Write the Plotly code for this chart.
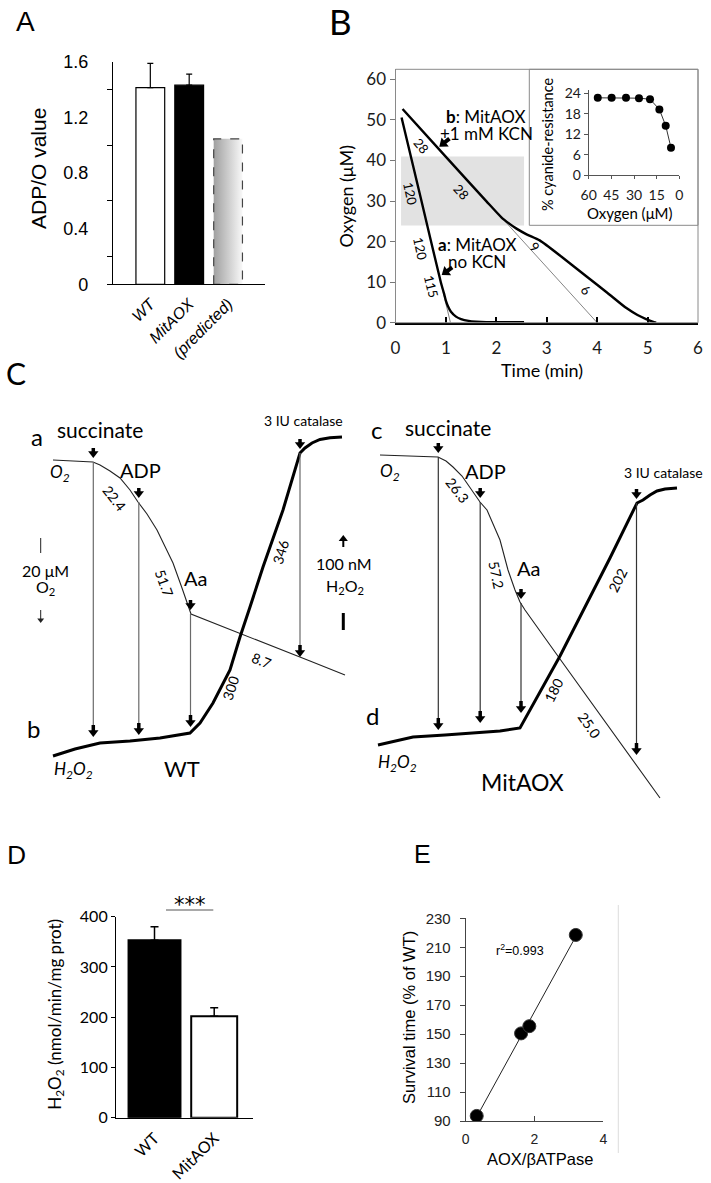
import math
import numpy as np
import plotly.graph_objects as go

W, H = 711, 1183
ARIAL = "Liberation Sans, Arial, sans-serif"
CAL = "Lato, Carlito, Calibri, sans-serif"

# ---------------- Panel A data ----------------
adp_cats = ["WT", "MitAOX", "(predicted)"]
adp_vals = [1.415, 1.433, 1.047]
adp_err = [0.175, 0.08, 0.0]

# ---------------- Panel B data (time, min ; oxygen, µM) ----------------
a_time = [0.12, 0.50, 0.90, 0.96, 1.00, 1.05, 1.10, 1.20, 1.30, 1.45, 1.60, 1.80, 2.55]
a_oxy = [50.6, 30.8, 9.9, 7.3, 5.4, 3.8, 2.7, 1.5, 0.9, 0.45, 0.25, 0.12, 0.15]
a_ext_time = [0.90, 1.09]
a_ext_oxy = [9.9, 0.0]
b_time = [0.14, 1.0, 1.8, 2.1, 2.25, 2.4, 2.6, 2.86, 3.3, 3.79, 4.2, 4.58, 4.8, 4.97, 5.1, 5.17]
b_oxy = [52.7, 40.9, 30.0, 26.0, 24.5, 23.2, 21.8, 20.3, 16.2, 11.4, 7.4, 3.6, 1.9, 0.9, 0.25, 0.0]
b_ext_time = [2.1, 4.0]
b_ext_oxy = [26.0, 0.0]
shade_time = [0.11, 2.55]
shade_oxy = [24.0, 41.0]

# inset
cn_oxygen = [54.0, 44.8, 35.3, 26.7, 19.4, 13.2, 9.0, 5.5]
cn_resist = [22.7, 22.7, 22.7, 22.6, 22.3, 19.3, 14.5, 8.0]

# ---------------- Panel C data (recorder traces, drawing units) ----------------
wt_o2_x = [53, 70, 93, 100, 110, 120, 130, 138, 147, 157, 165, 173, 182, 191, 230, 270, 310, 345]
wt_o2_y = [460, 461, 462, 465, 471, 478, 490, 502, 514, 530, 546, 563, 588, 614, 629.5, 645, 661, 675]
wt_h2o2_x = [53, 75, 100, 130, 160, 190, 200, 213, 230, 240, 250, 263, 283, 300, 305, 312, 320, 330, 342]
wt_h2o2_y = [756, 749, 743, 741, 738, 733, 723, 703, 670, 637, 607, 567, 510, 453, 448, 443, 439.5, 437.8, 437]
wt_add_x = [93.3, 138.8, 190.5, 300]
wt_add_top = [462, 502, 614, 453]
wt_add_bot = [737, 735, 727, 657]

aox_o2_x = [380, 400, 420, 438, 446, 453, 462, 470, 480, 487, 493, 500, 508, 515, 520, 525, 560, 600, 640, 660]
aox_o2_y = [455, 455.5, 456, 457, 461, 467, 476, 487, 502, 510, 524, 540, 570, 590, 602, 610, 659, 715, 770, 798]
aox_h2o2_x = [378, 395, 413, 445, 477, 500, 520, 560, 610, 637, 643, 650, 657, 665, 677]
aox_h2o2_y = [745, 741, 737, 735, 733, 731, 728, 656, 558, 503, 500, 495, 491, 489, 488]
aox_add_x = [438.3, 480.2, 521, 636.5]
aox_add_top = [457, 502, 603, 503]
aox_add_bot = [730, 723, 713, 755]

# ---------------- Panel D data ----------------
h2o2_groups = ["WT", "MitAOX"]
h2o2_rate = [353, 202]
h2o2_err = [27, 17]

# ---------------- Panel E data ----------------
aox_ratio = [0.32, 1.61, 1.85, 3.20]
survival = [93.5, 150.5, 155.5, 218.5]


def dxp(a, b):
    return [a / W, b / W]


def dyp(top, bottom):
    return [1 - bottom / H, 1 - top / H]


annotations = []
shapes = []


def txt(s, x, y, size, family=CAL, angle=0, xa="center", ya="middle", color="black"):
    annotations.append(dict(text=s, x=x / W, y=1 - y / H, xref="paper", yref="paper",
                            showarrow=False, textangle=angle, xanchor=xa, yanchor=ya,
                            font=dict(size=size, family=family, color=color)))


def pline(x0, y0, x1, y1, color="black", width=1):
    shapes.append(dict(type="line", xref="paper", yref="paper", x0=x0 / W, x1=x1 / W,
                       y0=1 - y0 / H, y1=1 - y1 / H, line=dict(color=color, width=width)))


arrows = []


def arrow(x, y, ddx=0.0, ddy=1.0, length=11, shaft=3.5, head=9, color="black"):
    arrows.append((x, y, ddx, ddy, length, shaft, head, color))


fig = go.Figure()

# ================= Panel A =================
fig.add_trace(go.Bar(x=[0, 1], y=adp_vals[:2], width=0.74,
                     marker=dict(color=["white", "black"], line=dict(color="black", width=1.2)),
                     error_y=dict(type="data", symmetric=False, array=adp_err[:2], arrayminus=[0, 0],
                                  color="black", thickness=1.2, width=3),
                     xaxis="x", yaxis="y", hoverinfo="skip"))
bw = 0.74
pv = adp_vals[2]
fig.add_trace(go.Scatter(x=[2 - bw / 2, 2 - bw / 2, 2 + bw / 2, 2 + bw / 2, 2 - bw / 2],
                         y=[0, pv, pv, 0, 0], mode="lines", fill="toself",
                         fillgradient=dict(type="horizontal",
                                           colorscale=[[0, "#a0a0a0"], [1, "#f8f8f8"]]),
                         line=dict(color="#444", width=1.2, dash="dash"),
                         xaxis="x", yaxis="y", hoverinfo="skip"))

# ================= Panel B =================
shapes.append(dict(type="rect", xref="x2", yref="y2", x0=shade_time[0], x1=shade_time[1],
                   y0=shade_oxy[0], y1=shade_oxy[1], fillcolor="#e2e2e2",
                   line=dict(width=0), layer="below"))
for tx, ty in [(a_ext_time, a_ext_oxy), (b_ext_time, b_ext_oxy)]:
    fig.add_trace(go.Scatter(x=tx, y=ty, mode="lines", line=dict(color="#666", width=0.8),
                             xaxis="x2", yaxis="y2", hoverinfo="skip"))
for tx, ty in [(a_time, a_oxy), (b_time, b_oxy)]:
    fig.add_trace(go.Scatter(x=tx, y=ty, mode="lines",
                             line=dict(color="black", width=2.4, shape="spline", smoothing=0.6),
                             xaxis="x2", yaxis="y2", hoverinfo="skip"))
shapes.append(dict(type="rect", xref="paper", yref="paper", x0=395.5 / W, x1=698 / W,
                   y0=1 - 322.7 / H, y1=1 - 69.3 / H, line=dict(color="#8a8a8a", width=1)))
shapes.append(dict(type="rect", xref="paper", yref="paper", x0=529.3 / W, x1=698 / W,
                   y0=1 - 225.3 / H, y1=1 - 69.3 / H, line=dict(color="#8a8a8a", width=1),
                   fillcolor="white", layer="below"))
fig.add_trace(go.Scatter(x=cn_oxygen, y=cn_resist, mode="lines+markers",
                         line=dict(color="#333", width=1), marker=dict(color="black", size=8),
                         xaxis="x3", yaxis="y3", hoverinfo="skip"))

# ================= Panel C =================
for xs, ys, wdt, col in [(wt_o2_x, wt_o2_y, 1.1, "#222"), (aox_o2_x, aox_o2_y, 1.1, "#222"),
                         (wt_h2o2_x, wt_h2o2_y, 3.0, "black"), (aox_h2o2_x, aox_h2o2_y, 3.0, "black")]:
    fig.add_trace(go.Scatter(x=xs, y=ys, mode="lines", line=dict(color=col, width=wdt),
                             xaxis="x4", yaxis="y4", hoverinfo="skip"))
for ax_, top_, bot_, col in [(wt_add_x, wt_add_top, wt_add_bot, "#6a6a6a"),
                             (aox_add_x, aox_add_top, aox_add_bot, "#333")]:
    vx, vy = [], []
    for xx, t, b in zip(ax_, top_, bot_):
        vx += [xx, xx, None]
        vy += [t, b - 6, None]
    fig.add_trace(go.Scatter(x=vx, y=vy, mode="lines", line=dict(color=col, width=1.2),
                             xaxis="x4", yaxis="y4", hoverinfo="skip"))
    for xx, t, b in zip(ax_, top_, bot_):
        arrow(xx, b, length=12)
        arrow(xx, t - 4, length=10)

# ================= Panel D =================
fig.add_trace(go.Bar(x=[0, 1], y=h2o2_rate, width=[0.87, 0.77],
                     marker=dict(color=["black", "white"], line=dict(color="black", width=2)),
                     error_y=dict(type="data", symmetric=False, array=h2o2_err, arrayminus=[0, 0],
                                  color="black", thickness=1.5, width=4),
                     xaxis="x5", yaxis="y5", hoverinfo="skip"))

# ================= Panel E =================
slope, icpt = np.polyfit(aox_ratio, survival, 1)
fx = [min(aox_ratio), max(aox_ratio)]
fig.add_trace(go.Scatter(x=fx, y=[slope * v + icpt for v in fx], mode="lines",
                         line=dict(color="#222", width=1), xaxis="x6", yaxis="y6", hoverinfo="skip"))
fig.add_trace(go.Scatter(x=aox_ratio, y=survival, mode="markers",
                         marker=dict(color="black", size=13, line=dict(color="#333", width=1)),
                         xaxis="x6", yaxis="y6", hoverinfo="skip"))

# ================= Annotations =================
txt("A", 25.8, 22, 28, ARIAL)
txt("B", 340.8, 21, 35)
txt("C", 15.8, 373, 30)
txt("D", 16.7, 854, 25)
txt("E", 422.5, 854, 25, ARIAL)

txt("ADP/O value", 39, 169, 21, ARIAL, angle=-90)

txt("Oxygen (μM)", 345.5, 196, 18, angle=-90)
txt("Time (min)", 542, 370, 18)
txt("<b>b</b>: MitAOX", 485.5, 116.5, 17)
txt("+1 mM KCN", 486, 133, 17)
txt("<b>a</b>: MitAOX", 476.7, 244.5, 17)
txt("no KCN", 477, 261.5, 17)
arrow(439.3, 146.7, -10, 8, length=13, shaft=4, head=10)
arrow(441.7, 275, -11, 8, length=13, shaft=4, head=10)
txt("28", 421.7, 145.7, 13, angle=50)
txt("28", 461.7, 191.7, 13, angle=48)
txt("9", 535, 247, 13, angle=40)
txt("6", 586, 290, 13, angle=40)
txt("120", 410, 193.3, 13, angle=78)
txt("120", 420, 248.3, 13, angle=78)
txt("115", 431.7, 286.7, 13, angle=76)
txt("% cyanide-resistance", 547, 145, 14.5, angle=-90)
txt("Oxygen (μM)", 630, 213, 15)

txt("a", 36.7, 437, 24)
txt("succinate", 100, 429, 21)
txt("<i>O<sub>2</sub></i>", 60, 473, 17)
txt("ADP", 140, 470, 20)
txt("22.4", 115, 498, 14, angle=52)
txt("51.7", 165, 583, 14, angle=70)
txt("Aa", 195, 578, 20)
txt("8.7", 262, 660, 14, angle=22)
txt("346", 280, 552, 14, angle=-73)
txt("300", 230, 688, 14, angle=-72)
txt("3 IU catalase", 303, 420, 14)
txt("20 μM", 45, 570, 16)
txt("O<sub>2</sub>", 45, 587, 16)
pline(40.7, 538, 40.7, 553, "#222", 1)
arrow(40.7, 623, 0, 1, length=13, shaft=1, head=6, color="#222")
txt("100 nM", 344, 563, 16)
txt("H<sub>2</sub>O<sub>2</sub>", 345, 586, 16)
arrow(343.3, 535, 0, -1, length=12, shaft=2, head=8)
pline(343.3, 613, 343.3, 630, "black", 3)
txt("b", 33.3, 728, 24)
txt("<i>H<sub>2</sub>O<sub>2</sub></i>", 73, 770, 17)
txt("WT", 182, 768, 22)

txt("c", 376.7, 430, 24)
txt("succinate", 448, 428, 21)
txt("<i>O<sub>2</sub></i>", 390, 472, 17)
txt("ADP", 485, 471, 20)
txt("26.3", 458, 490, 14, angle=52)
txt("57.2", 497, 575, 14, angle=78)
txt("Aa", 528, 568, 20)
txt("25.0", 590, 725, 14, angle=55)
txt("180", 553, 690, 14, angle=-63)
txt("202", 617, 580, 14, angle=-63)
txt("3 IU catalase", 663, 472, 14)
txt("d", 372, 715, 24)
txt("<i>H<sub>2</sub>O<sub>2</sub></i>", 397, 763, 17)
txt("MitAOX", 522, 782, 23)

txt("H<sub>2</sub>O<sub>2</sub> (nmol/min/mg prot)", 55.8, 1014, 17, angle=-90)
txt("***", 190, 905, 21, family="DejaVu Sans")
pline(166, 910, 213.3, 910, "#555", 1)

txt("Survival time (% of WT)", 409, 1018, 16.5, ARIAL, angle=-90)
txt("AOX/βATPase", 540, 1159, 16.5, ARIAL)
txt("r<sup>2</sup>=0.993", 520, 950, 12.5, ARIAL)
pline(618.3, 905, 618.3, 1153, "#dcdcdc", 1)

# ---- arrow glyphs in page-wide drawing space ----
for (x, y, ddx, ddy, L, sw, hs, col) in arrows:
    n = math.hypot(ddx, ddy)
    ux, uy = ddx / n, ddy / n
    r = hs / 2.0
    fig.add_trace(go.Scatter(x=[x - L * ux, x - (r + 0.5) * ux], y=[y - L * uy, y - (r + 0.5) * uy],
                             mode="lines", line=dict(color=col, width=sw),
                             xaxis="x4", yaxis="y4", hoverinfo="skip"))
    ang = math.degrees(math.atan2(ux, -uy))
    fig.add_trace(go.Scatter(x=[x - r * ux], y=[y - r * uy], mode="markers",
                             marker=dict(symbol="triangle-up", size=hs, angle=ang, color=col,
                                         line=dict(width=0)),
                             xaxis="x4", yaxis="y4", hoverinfo="skip"))

common = dict(showgrid=False, zeroline=False, automargin=False)

fig.update_layout(
    width=W, height=H, margin=dict(l=0, r=0, t=0, b=0, pad=0), autosize=False,
    paper_bgcolor="white", plot_bgcolor="rgba(0,0,0,0)", showlegend=False,
    annotations=annotations, shapes=shapes,
    xaxis=dict(domain=dxp(113, 265), range=[-0.96, 2.95], tickvals=[0, 1, 2],
               ticktext=["<i>%s</i>" % c for c in adp_cats], tickangle=-45,
               tickfont=dict(family=ARIAL, size=16, color="black"), ticks="",
               showline=True, linecolor="black", linewidth=1.2, ticklabelstandoff=3, **common),
    yaxis=dict(domain=dyp(62, 284.3), range=[0, 1.6], tickvals=[0, 0.4, 0.8, 1.2, 1.6],
               ticktext=["0", "0.4", "0.8", "1.2", "1.6"], ticks="",
               minor=dict(tickvals=[0, 0.2, 0.6, 1.0, 1.4], ticks="outside", ticklen=5,
                          tickcolor="black", tickwidth=1),
               tickfont=dict(family=ARIAL, size=18, color="black"), ticklabelstandoff=20,
               showline=True, linecolor="black", linewidth=1.2, **common),
    xaxis2=dict(domain=dxp(395.5, 698), range=[0, 6], tickvals=[0, 1, 2, 3, 4, 5, 6],
                ticks="inside", ticklen=6, tickwidth=2, tickcolor="black",
                showline=True, linecolor="black", linewidth=2,
                tickfont=dict(family=CAL, size=17, color="#1a1a1a"), ticklabelstandoff=9,
                anchor="y2", **common),
    yaxis2=dict(domain=dyp(69.3, 322.7), range=[0, 62.5], tickvals=[0, 10, 20, 30, 40, 50, 60],
                ticks="outside", ticklen=5, tickcolor="#777", showline=True, linecolor="#8a8a8a",
                linewidth=1, tickfont=dict(family=CAL, size=17, color="#1a1a1a"),
                anchor="x2", **common),
    xaxis3=dict(domain=dxp(588.7, 679.3), range=[60, 0], tickvals=[60, 45, 30, 15, 0],
                ticks="outside", ticklen=3, tickcolor="#555", showline=True, linecolor="#555",
                linewidth=1, tickfont=dict(family=CAL, size=14, color="#1a1a1a"),
                ticklabelstandoff=4, anchor="y3", **common),
    yaxis3=dict(domain=dyp(90, 175), range=[0, 25], tickvals=[0, 6, 12, 18, 24],
                ticks="outside", ticklen=4, tickcolor="#555", showline=True, linecolor="#555",
                linewidth=1, tickfont=dict(family=CAL, size=14, color="#1a1a1a"),
                anchor="x3", **common),
    xaxis4=dict(domain=[0, 1], range=[0, W], visible=False, anchor="y4", fixedrange=True, **common),
    yaxis4=dict(domain=[0, 1], range=[H, 0], visible=False, anchor="x4", fixedrange=True, **common),
    xaxis5=dict(domain=dxp(116, 252.7), range=[-0.645, 1.645], tickvals=[0, 1],
                ticktext=h2o2_groups, tickangle=-45, ticks="",
                tickfont=dict(family=CAL, size=16, color="black"), ticklabelstandoff=4,
                showline=True, linecolor="black", linewidth=1.2, anchor="y5", **common),
    yaxis5=dict(domain=dyp(916.7, 1117.7), range=[0, 400], tickvals=[0, 100, 200, 300, 400],
                ticks="outside", ticklen=4, tickcolor="black", showline=True, linecolor="black",
                linewidth=1.2, tickfont=dict(family=CAL, size=16, color="black"),
                anchor="x5", **common),
    xaxis6=dict(domain=dxp(465.7, 603.3), range=[0, 4], tickvals=[0, 2, 4],
                ticks="inside", ticklen=5, tickcolor="#444", showline=True, linecolor="#444",
                linewidth=1, tickfont=dict(family=ARIAL, size=14, color="#222"),
                ticklabelstandoff=5, anchor="y6", **common),
    yaxis6=dict(domain=dyp(918.3, 1121), range=[90, 230], tickvals=list(range(90, 231, 20)),
                ticks="outside", ticklen=5, tickcolor="#444", showline=True, linecolor="#444",
                linewidth=1, tickfont=dict(family=ARIAL, size=15, color="#222"),
                ticklabelstandoff=6, anchor="x6", **common),
)

fig.write_html("out.html", config={"displayModeBar": False},
               post_script="document.body.style.margin='0';document.body.style.overflow='hidden';")
